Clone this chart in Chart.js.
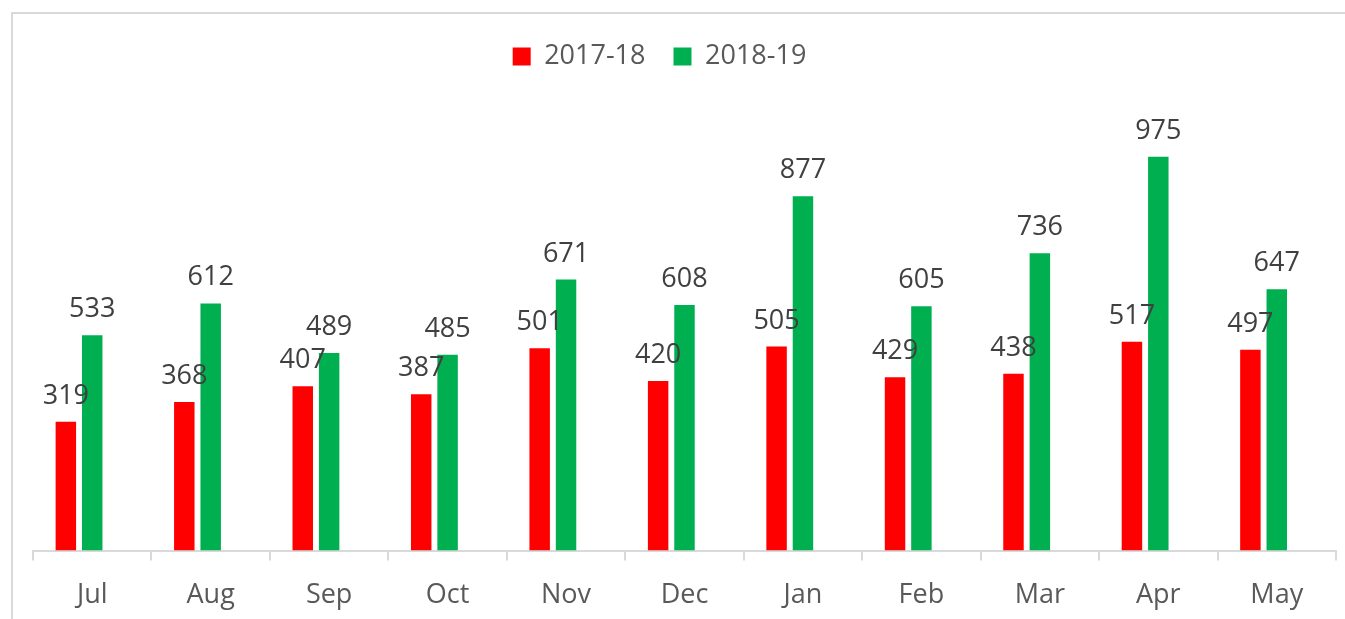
<!DOCTYPE html>
<html>
<head>
<meta charset="utf-8">
<script src="https://cdn.jsdelivr.net/npm/chart.js@4"></script>
<style>
  html, body { margin: 0; padding: 0; background: #fff; overflow: hidden; }
  #wrap { position: relative; width: 1345px; height: 619px; overflow: hidden; }
  #frame { position: absolute; left: 11px; top: 12px; width: 1400px; height: 700px; border: 2px solid #d9d9d9; box-sizing: border-box; }
  canvas { position: absolute; left: 0; top: 0; }
</style>
</head>
<body>
<div id="wrap">
  <div id="frame"></div>
  <canvas id="sales" width="1345" height="640"></canvas>
</div>
<script>
const months = ['Jul', 'Aug', 'Sep', 'Oct', 'Nov', 'Dec', 'Jan', 'Feb', 'Mar', 'Apr', 'May'];
const fy1718 = [319, 368, 407, 387, 501, 420, 505, 429, 438, 517, 497];
const fy1819 = [533, 612, 489, 485, 671, 608, 877, 605, 736, 975, 647];
// the source chart keeps an empty third series slot in each group
const emptySlot = months.map(() => null);

const fontFamily = '"Open Sans", "Noto Sans", sans-serif';

// value labels above each bar
const barLabels = {
    id: 'barLabels',
    afterDatasetsDraw(chart) {
        const ctx = chart.ctx;
        ctx.save();
        ctx.font = '27px ' + fontFamily;
        ctx.fillStyle = '#404040';
        ctx.textAlign = 'center';
        ctx.textBaseline = 'alphabetic';
        [0, 1].forEach(i => {
            const meta = chart.getDatasetMeta(i);
            meta.data.forEach((bar, j) => {
                const v = chart.data.datasets[i].data[j];
                if (v == null) return;
                ctx.fillText(String(v), bar.x, bar.y - 18);
            });
        });
        ctx.restore();
    }
};

// legend sits a little left of centre in the original
const legendShift = {
    id: 'legendShift',
    afterLayout(chart) {
        chart.legend.left -= 25;
        chart.legend.right -= 25;
    }
};

const ctx = document.getElementById('sales').getContext('2d');
new Chart(ctx, {
    type: 'bar',
    data: {
        labels: months,
        datasets: [
            { label: '2017-18', data: fy1718, backgroundColor: '#ff0000' },
            { label: '2018-19', data: fy1819, backgroundColor: '#00b050' },
            { label: '', data: emptySlot, backgroundColor: 'rgba(0,0,0,0)' }
        ]
    },
    options: {
        responsive: false,
        animation: false,
        categoryPercentage: 0.668,
        barPercentage: 0.776,
        layout: { padding: { left: 33, right: 9, top: 15, bottom: 9 } },
        plugins: {
            tooltip: { enabled: false },
            legend: {
                position: 'top',
                labels: {
                    filter: item => item.text !== '',
                    boxWidth: 18,
                    boxHeight: 18,
                    padding: 28,
                    color: '#595959',
                    font: { family: fontFamily, size: 27 }
                }
            }
        },
        scales: {
            x: {
                offset: true,
                border: { display: true, color: '#d9d9d9', width: 2 },
                grid: {
                    display: true,
                    offset: true,
                    drawOnChartArea: false,
                    drawTicks: true,
                    tickLength: 10,
                    color: '#d9d9d9',
                    lineWidth: 2
                },
                ticks: {
                    color: '#595959',
                    padding: 19,
                    font: { family: fontFamily, size: 27 }
                }
            },
            y: {
                display: false,
                min: 0,
                max: 1165
            }
        }
    },
    plugins: [barLabels, legendShift]
});
</script>
</body>
</html>
